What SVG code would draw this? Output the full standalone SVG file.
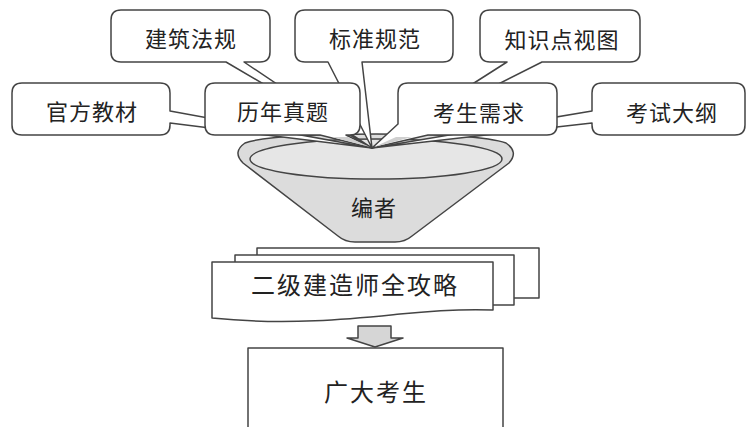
<svg xmlns="http://www.w3.org/2000/svg" width="747" height="427" viewBox="0 0 747 427">
<style>
.ln{stroke:#444;stroke-width:1.5;stroke-linejoin:round}
.co{fill:#fff}
.t{font-family:"Noto Sans CJK SC","Noto Sans",sans-serif;fill:#222;text-anchor:middle}
.t22{font-size:22px;letter-spacing:1px}
.t24{font-size:24px;letter-spacing:2px}
</style>
<rect width="747" height="427" fill="#fff"/>
<g id="bowl">
<path class="ln" fill="#dcdcdc" d="M243,163 Q232,152 245,143 Q270,134 376,134 Q480,134 506,143 Q519,152 509,163 L412,236 Q405,242 395,242 L355,242 Q345,242 338,236 Z"/>
<ellipse class="ln" fill="#e6e6e6" cx="376" cy="159" rx="126" ry="20"/>
<text class="t t22" x="374" y="216">编者</text>
</g>
<g id="connectors">
<g id="c-jzfg"><path class="ln co" d="M121,10 H260 Q270,10 270,20 V52 Q270,62 260,62 H244 L372,148 L226,62 H121 Q111,62 111,52 V20 Q111,10 121,10 Z"/></g>
<g id="c-bzgf"><path class="ln co" d="M305,10 H443 Q453,10 453,20 V52 Q453,62 443,62 H362 L372,148 L328,62 H305 Q295,62 295,52 V20 Q295,10 305,10 Z"/></g>
<g id="c-zsd"><path class="ln co" d="M490,10 H630 Q640,10 640,20 V52 Q640,62 630,62 H542 L372,148 L507,62 H490 Q480,62 480,52 V20 Q480,10 490,10 Z"/></g>
<g id="c-gfjc"><path class="ln co" d="M22,83 H160 Q170,83 170,93 V111 L372,148 L170,123 V125 Q170,135 160,135 H22 Q12,135 12,125 V93 Q12,83 22,83 Z"/></g>
<g id="c-ksdg"><path class="ln co" d="M602,83 H735 Q745,83 745,93 V125 Q745,135 735,135 H602 Q592,135 592,125 V123 L372,148 L592,111 V93 Q592,83 602,83 Z"/></g>
<g id="c-lnzt"><path class="ln co" d="M215,83 H350 Q360,83 360,93 V125 Q360,135 350,135 H346 L372,148 L320,135 H215 Q205,135 205,125 V93 Q205,83 215,83 Z"/></g>
<g id="c-kszq"><path class="ln co" d="M408,83 H547 Q557,83 557,93 V125 Q557,135 547,135 H428 L372,148 L398,124 V93 Q398,83 408,83 Z"/></g>
<polygon points="332,137 370,147 348,137" fill="#cfcfcf"/>
<polygon points="374,147 412,137 396,137" fill="#cfcfcf"/>
<path class="ln" fill="#d6d6d6" d="M358,326 H391 V338 H403 L375,347 L347,338 H358 Z"/>
</g>
<g id="n-jzfg"><text class="t t22" x="191" y="47">建筑法规</text></g>
<g id="n-bzgf"><text class="t t22" x="375" y="47">标准规范</text></g>
<g id="n-zsd"><text class="t t22" x="562" y="48">知识点视图</text></g>
<g id="n-gfjc"><text class="t t22" x="92" y="120">官方教材</text></g>
<g id="n-lnzt"><text class="t t22" x="283" y="120">历年真题</text></g>
<g id="n-kszq"><text class="t t22" x="479" y="121">考生需求</text></g>
<g id="n-ksdg"><text class="t t22" x="672" y="121">考试大纲</text></g>
<g id="n-book">
<rect class="ln" fill="#fff" x="257" y="248" width="282" height="50"/>
<rect class="ln" fill="#fff" x="235" y="255" width="279" height="50"/>
<path class="ln" fill="#fff" d="M212,262 H493 V310 C470,309 430,311 400,314 C360,318 290,326 212,318 Z"/>
<text class="t t24" x="355" y="294">二级建造师全攻略</text>
</g>
<g id="n-students">
<rect class="ln" fill="#fff" x="248" y="348" width="255" height="95"/>
<text class="t t24" x="376" y="401">广大考生</text>
</g>
</svg>
